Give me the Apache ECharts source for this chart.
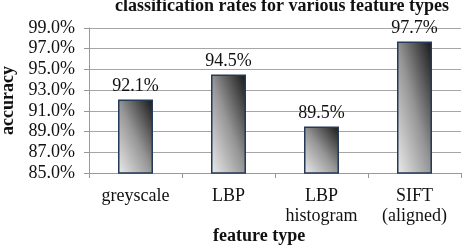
<!DOCTYPE html>
<html>
<head>
<meta charset="utf-8">
<script src="https://cdn.jsdelivr.net/npm/echarts@6/dist/echarts.min.js"></script>
<style>
  html, body { margin: 0; padding: 0; background: #fff; }
  #bar { width: 471px; height: 252px; }
</style>
</head>
<body>
<div id="bar"></div>
<script>
const categories = ['greyscale', 'LBP', 'LBP\nhistogram', 'SIFT\n(aligned)']
const accuracy = [92.1, 94.5, 89.5, 97.7]
const yMin = 85
const yMax = 99
const yStep = 2

const serif = '"Liberation Serif", "DejaVu Serif", serif'
const plotHeight = 145
const barWidth = 35

// shaded fill: light at bottom-left, dark at top-right, corner to corner
function barFill(value) {
  const h = (value - yMin) / (yMax - yMin) * plotHeight
  const w = barWidth
  const p = h * h / (h * h + w * w)
  const q = w * w / (h * h + w * w)
  return new echarts.graphic.LinearGradient(0.5 - p, 0.5 + q, 0.5 + p, 0.5 - q, [
    {offset: 0, color: '#ececec'},
    {offset: 0.5, color: '#959595'},
    {offset: 1, color: '#161616'}
  ])
}

const chartDom = document.getElementById('bar')
const myChart = echarts.init(chartDom)

const option = {
  backgroundColor: '#fff',
  animation: false,
  title: {
    text: 'classification rates for various feature types',
    left: 277,
    top: -8,
    textAlign: 'center',
    textStyle: {fontFamily: serif, fontSize: 18, fontWeight: 'bold', color: '#111'}
  },
  graphic: [
    {
      type: 'text',
      left: 259 - 46,
      top: 227,
      style: {text: 'feature type', font: 'bold 18px ' + serif, fill: '#111'}
    }
  ],
  grid: {
    left: 89,
    right: 10,
    top: 28,
    bottom: 79,
    outerBoundsMode: 'none',
    containLabel: false
  },
  xAxis: {
    type: 'category',
    data: categories,
    axisLine: {lineStyle: {color: '#999', width: 1}},
    axisTick: {show: true, length: 5, lineStyle: {color: '#999'}},
    axisLabel: {
      interval: 0,
      fontFamily: serif,
      fontSize: 18,
      color: '#111',
      margin: 13,
      lineHeight: 20
    }
  },
  yAxis: {
    type: 'value',
    min: yMin,
    max: yMax,
    interval: yStep,
    name: 'accuracy',
    nameLocation: 'middle',
    nameGap: 72,
    nameTextStyle: {fontFamily: serif, fontSize: 18, fontWeight: 'bold', color: '#111'},
    axisLine: {show: true, lineStyle: {color: '#999', width: 1}},
    axisTick: {show: true, length: 5, lineStyle: {color: '#999'}},
    splitLine: {lineStyle: {color: '#a6a6a6', width: 1}},
    axisLabel: {
      fontFamily: serif,
      fontSize: 18,
      color: '#111',
      margin: 14,
      formatter: v => v.toFixed(1) + '%'
    }
  },
  series: [
    {
      type: 'bar',
      data: accuracy.map(v => ({value: v, itemStyle: {color: barFill(v)}})),
      barWidth: barWidth,
      itemStyle: {
        borderColor: '#243a58',
        borderWidth: 1.5
      },
      label: {
        show: true,
        position: 'top',
        distance: 4,
        fontFamily: serif,
        fontSize: 18,
        color: '#111',
        formatter: p => p.value.toFixed(1) + '%'
      }
    }
  ]
}

myChart.setOption(option)
</script>
</body>
</html>
